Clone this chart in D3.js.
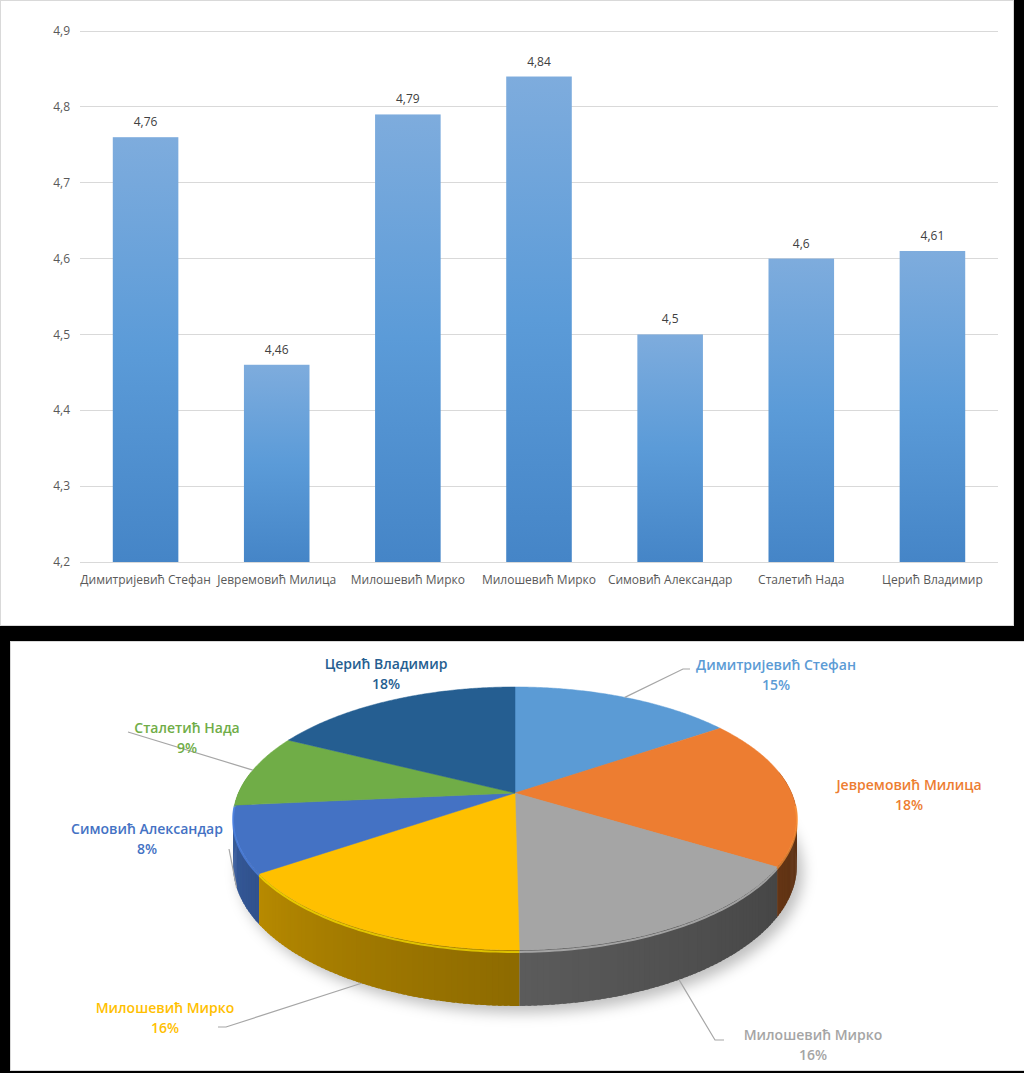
<!DOCTYPE html>
<html><head><meta charset="utf-8">
<script src="https://cdn.jsdelivr.net/npm/d3@7"></script>
<style>html,body{margin:0;padding:0;background:#000;} svg{display:block;}</style>
</head><body><svg id="c" width="1024" height="1073"></svg>
<script>
const categories = ["Димитријевић Стефан","Јевремовић Милица","Милошевић Мирко","Милошевић Мирко","Симовић Александар","Сталетић Нада","Церић Владимир"];
const barValues = [4.76, 4.46, 4.79, 4.84, 4.5, 4.6, 4.61];
const yTicks = [4.2, 4.3, 4.4, 4.5, 4.6, 4.7, 4.8, 4.9];
const pieNames = ["Димитријевић Стефан","Јевремовић Милица","Милошевић Мирко","Милошевић Мирко","Симовић Александар","Сталетић Нада","Церић Владимир"];
const pieValues = [15.4, 18.4, 16.0, 15.6, 8.1, 9.0, 17.5];
const pieColors = ["#5b9bd5","#ed7d31","#a5a5a5","#ffc000","#4472c4","#70ad47","#255e91"];

const svg = d3.select("#c");
const FONT = "'Open Sans', Lato, sans-serif";
const fmt = v => String(v).replace(".", ",");

// panels
svg.append("rect").attr("x",0.5).attr("y",0.5).attr("width",1013).attr("height",625)
  .attr("fill","#fff").attr("stroke","#d9d9d9");
svg.append("rect").attr("x",10.5).attr("y",641.5).attr("width",1020).attr("height",429)
  .attr("fill","#fff").attr("stroke","#d9d9d9");

// ---------- BAR CHART ----------
const defs = svg.append("defs");
const g1 = defs.append("linearGradient").attr("id","barGrad").attr("x1",0).attr("y1",0).attr("x2",0).attr("y2",1);
g1.append("stop").attr("offset","0%").attr("stop-color","#7eacdd");
g1.append("stop").attr("offset","50%").attr("stop-color","#5b9bd8");
g1.append("stop").attr("offset","100%").attr("stop-color","#4585c7");

const y = d3.scaleLinear().domain([4.2, 4.9]).range([562, 31]);
const x = d3.scaleBand().domain(d3.range(categories.length)).range([80, 998]).padding(0);

const grid = svg.append("g");
grid.selectAll("line").data(yTicks).join("line")
  .attr("x1",80).attr("x2",998).attr("y1",d=>y(d)).attr("y2",d=>y(d))
  .attr("stroke","#d9d9d9").attr("stroke-width",1).attr("shape-rendering","crispEdges");
grid.selectAll("text").data(yTicks).join("text")
  .attr("x",70).attr("y",d=>y(d)).attr("dy","0.35em").attr("text-anchor","end")
  .attr("font-family",FONT).attr("font-size",12).attr("fill","#595959").text(d=>fmt(d));

const bw = x.bandwidth()*0.5;
svg.append("g").selectAll("rect").data(barValues).join("rect")
  .attr("x",(d,i)=>x(i)+x.bandwidth()/2-bw/2).attr("width",bw)
  .attr("y",d=>y(d)).attr("height",d=>y(4.2)-y(d)).attr("fill","url(#barGrad)");
svg.append("g").selectAll("text").data(barValues).join("text")
  .attr("x",(d,i)=>x(i)+x.bandwidth()/2).attr("y",d=>y(d)-11)
  .attr("text-anchor","middle").attr("font-family",FONT).attr("font-size",12).attr("fill","#404040")
  .text(d=>fmt(d));
svg.append("g").selectAll("text").data(categories).join("text")
  .attr("x",(d,i)=>x(i)+x.bandwidth()/2).attr("y",580).attr("dy","0.35em")
  .attr("text-anchor","middle").attr("font-family",FONT).attr("font-size",12).attr("fill","#595959")
  .text(d=>d);

// ---------- 3D PIE ----------
const P = {cx:515, cy:793, rx:276.6, ry:126.6, k:0.194, h:45};
function proj(a, dz=0){
  const u=Math.sin(a), v=-Math.cos(a); const p=1/(1-P.k*v);
  return [P.cx+P.rx*u*p, P.cy+P.ry*v*p+dz*p];
}
const arcs = d3.pie().sort(null).value(d=>d)(pieValues);
const DEG = Math.PI/180;

// shadow
const f = defs.append("filter").attr("id","blur").attr("x","-20%").attr("y","-20%").attr("width","140%").attr("height","140%");
f.append("feGaussianBlur").attr("stdDeviation",7);
const shadowPts = d3.range(0, 361, 2).map(d=>proj(d*DEG, P.h));
svg.append("path").attr("d", d3.line()(shadowPts)+"Z").attr("transform","translate(6,7)")
  .attr("fill","rgba(0,0,0,0.25)").attr("filter","url(#blur)");

// sides
function shadeK(a){ return Math.max(0.5, Math.min(2.8, 0.6 + 2.1*(260*DEG - a)/(160*DEG))); }
const quads = [];
arcs.forEach((s,i)=>{
  const lo = Math.max(s.startAngle, 80*DEG), hi = Math.min(s.endAngle, 280*DEG);
  if (hi <= lo) return;
  const n = Math.max(1, Math.ceil((hi-lo)/(1*DEG)));
  for (let j=0;j<n;j++){
    const a0 = lo + (hi-lo)*j/n, a1 = Math.min(hi, lo + (hi-lo)*(j+1)/n + 0.6*DEG);
    const am = (a0+a1)/2;
    quads.push({v:-Math.cos(am), pts:[proj(a0),proj(a1),proj(a1,P.h),proj(a0,P.h)],
      c: d3.color(pieColors[i]).darker(shadeK(am)).formatHex()});
  }
});
quads.sort((a,b)=>a.v-b.v);
svg.append("g").selectAll("path").data(quads).join("path")
  .attr("d",d=>d3.line()(d.pts)+"Z").attr("fill",d=>d.c);

// top faces
svg.append("g").selectAll("path").data(arcs).join("path")
  .attr("d", s=>{
    const n = Math.max(2, Math.ceil((s.endAngle-s.startAngle)/(0.5*DEG)));
    const pts = [[P.cx,P.cy]];
    for (let j=0;j<=n;j++) pts.push(proj(s.startAngle+(s.endAngle-s.startAngle)*j/n));
    return d3.line()(pts)+"Z";
  })
  .attr("fill",(s,i)=>pieColors[i]).attr("stroke",(s,i)=>pieColors[i]).attr("stroke-width",0.5);

// rim highlight (front)
svg.append("g").selectAll("path").data(arcs).join("path")
  .attr("d", s=>{
    const lo = Math.max(s.startAngle, 95*DEG), hi = Math.min(s.endAngle, 265*DEG);
    if (hi<=lo) return null;
    const n = Math.ceil((hi-lo)/DEG);
    return d3.line()(d3.range(n+1).map(j=>proj(lo+(hi-lo)*j/n, 1.5)));
  })
  .attr("fill","none").attr("stroke",(s,i)=>d3.color(pieColors[i]).brighter(0.5).formatHex())
  .attr("stroke-width",2).attr("opacity",0.7);

// labels
const labelPos = [
  {x:776, y:665, lead:[[683,669],[690,669]], front:false},
  {x:909, y:785, lead:null},
  {x:813, y:1035, lead:[[715,1040],[724,1040]], front:true},
  {x:165, y:1008, lead:[[226,1027],[218,1027]], front:true},
  {x:147, y:829, lead:[[229,849]], front:true},
  {x:187, y:728, lead:[[128,732]], front:false},
  {x:386, y:664, lead:null}
];
const lg = svg.append("g");
arcs.forEach((s,i)=>{
  const L = labelPos[i];
  if (L.lead){
    const am = (s.startAngle+s.endAngle)/2;
    const st = proj(am, L.front ? P.h : 0);
    lg.append("path").attr("d", d3.line()([st, ...L.lead])).attr("fill","none")
      .attr("stroke","#a6a6a6").attr("stroke-width",1.2);
  }
  const t = lg.append("text").attr("text-anchor","middle").attr("font-family",FONT)
    .attr("font-size",14).attr("font-weight",600).attr("fill",pieColors[i]);
  t.append("tspan").attr("x",L.x).attr("y",L.y).attr("dy","0.35em").text(pieNames[i]);
  t.append("tspan").attr("x",L.x).attr("y",L.y+20.5).attr("dy","0.35em").text(Math.round(s.data)+"%");
});
</script>
</body></html>
